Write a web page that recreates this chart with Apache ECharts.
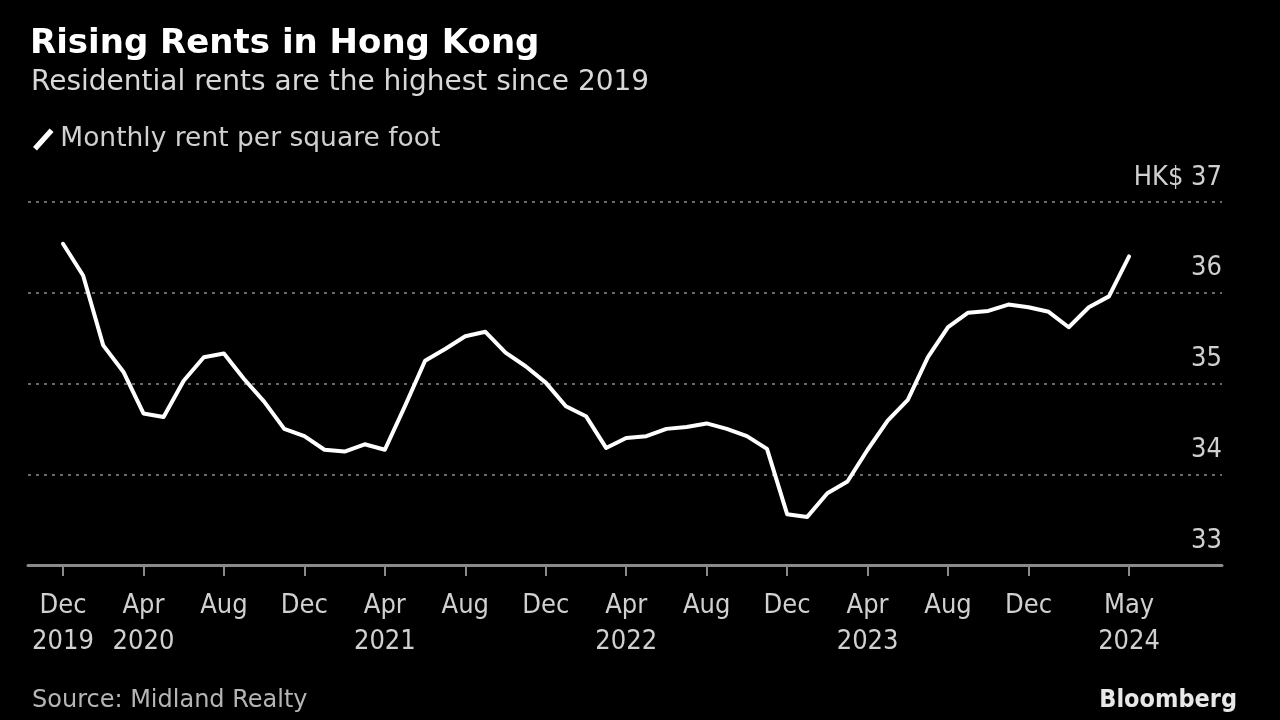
<!DOCTYPE html>
<html>
<head>
<meta charset="utf-8">
<script src="https://cdn.jsdelivr.net/npm/echarts@6/dist/echarts.min.js"></script>
<style>
html,body{margin:0;padding:0;background:#000;}
#chart{width:1280px;height:720px;}
</style>
</head>
<body>
<div id="chart"></div>
<script>
// Monthly rent per square foot (HK$), Dec 2019 .. May 2024 (index 0..53)
const rentValues = [
  36.54, 36.19, 35.42, 35.13, 34.67, 34.63, 35.03, 35.29, 35.33, 35.05, 34.80, 34.50,
  34.42, 34.27, 34.25, 34.33, 34.27, 34.75, 35.25, 35.38, 35.52, 35.57, 35.34, 35.19,
  35.01, 34.75, 34.64, 34.29, 34.40, 34.42, 34.50, 34.52, 34.56, 34.50, 34.42, 34.28,
  33.56, 33.53, 33.79, 33.92, 34.27, 34.59, 34.82, 35.29, 35.62, 35.78, 35.80, 35.87,
  35.84, 35.79, 35.62, 35.84, 35.96, 36.40
];
// x tick positions (month index) and their labels
const tickIndex = [0, 4, 8, 12, 16, 20, 24, 28, 32, 36, 40, 44, 48, 53];
const tickLabels = [
  'Dec\n2019', 'Apr\n2020', 'Aug', 'Dec', 'Apr\n2021', 'Aug', 'Dec',
  'Apr\n2022', 'Aug', 'Dec', 'Apr\n2023', 'Aug', 'Dec', 'May\n2024'
];
const yTicks = [33, 34, 35, 36, 37];
const yTickLabels = ['33', '34', '35', '36', 'HK$ 37'];

const FONT = '"DejaVu Sans Condensed", "DejaVu Sans", sans-serif';
const FONT_WIDE = '"DejaVu Sans", sans-serif';
const chart = echarts.init(document.getElementById('chart'));

const seriesData = rentValues.map((v, i) => [i, v]);

chart.setOption({
  backgroundColor: '#000000',
  animation: false,
  textStyle: { fontFamily: FONT },
  title: [
    {
      text: 'Rising Rents in Hong Kong',
      left: 25, top: 22,
      textStyle: { color: '#ffffff', fontSize: 34, fontWeight: 'bold', fontFamily: FONT_WIDE }
    },
    {
      text: 'Residential rents are the highest since 2019',
      left: 26, top: 64,
      textStyle: { color: '#d8d8d8', fontSize: 28, fontWeight: 'normal', fontFamily: FONT_WIDE }
    },
    {
      text: 'Source: Midland Realty',
      left: 27, top: 684,
      textStyle: { color: '#b5b5b5', fontSize: 24, fontWeight: 'normal', fontFamily: FONT_WIDE }
    },
    {
      text: 'Bloomberg',
      right: 38, top: 683,
      textStyle: { color: '#e8e8e8', fontSize: 25, fontWeight: 'bold', fontFamily: FONT }
    }
  ],
  legend: {
    left: 28, top: 121,
    itemWidth: 24, itemHeight: 22, itemGap: 13,
    icon: 'path://M0,19 L17,0 L21,3.5 L4,22.5 Z',
    textStyle: { color: '#d0d0d0', fontSize: 26.5, fontFamily: FONT_WIDE },
    data: [{ name: 'Monthly rent per square foot', itemStyle: { color: '#ffffff' } }]
  },
  grid: { left: 28, right: 58, top: 202, bottom: 155, containLabel: false },
  xAxis: {
    type: 'value',
    min: -1.74,
    max: 57.62,
    axisLine: { show: true, lineStyle: { color: '#8a8a8a', width: 3 } },
    axisTick: { show: true, customValues: tickIndex, length: 11, lineStyle: { color: '#8a8a8a', width: 2 } },
    axisLabel: {
      show: true,
      customValues: tickIndex,
      formatter: (v) => tickLabels[tickIndex.indexOf(Math.round(v))] || '',
      color: '#d0d0d0', fontSize: 27, fontFamily: FONT,
      lineHeight: 36, margin: 23, align: 'center'
    },
    splitLine: { show: false }
  },
  yAxis: {
    type: 'value',
    position: 'right',
    min: 33, max: 37, interval: 1,
    axisLine: { show: false },
    axisTick: { show: false },
    axisLabel: {
      inside: true,
      margin: 0,
      verticalAlign: 'bottom',
      padding: [0, 0, 11, 0],
      color: '#d0d0d0', fontSize: 27, fontFamily: FONT,
      formatter: (v) => yTickLabels[yTicks.indexOf(v)]
    },
    splitLine: { show: true, lineStyle: { color: '#6a6a6a', width: 2, type: [3, 5] } }
  },
  series: [{
    name: 'Monthly rent per square foot',
    type: 'line',
    data: seriesData,
    showSymbol: false,
    symbol: 'none',
    lineStyle: { color: '#ffffff', width: 4, join: 'round', cap: 'round' },
    itemStyle: { color: '#ffffff' },
    z: 5
  }]
});
</script>
</body>
</html>
